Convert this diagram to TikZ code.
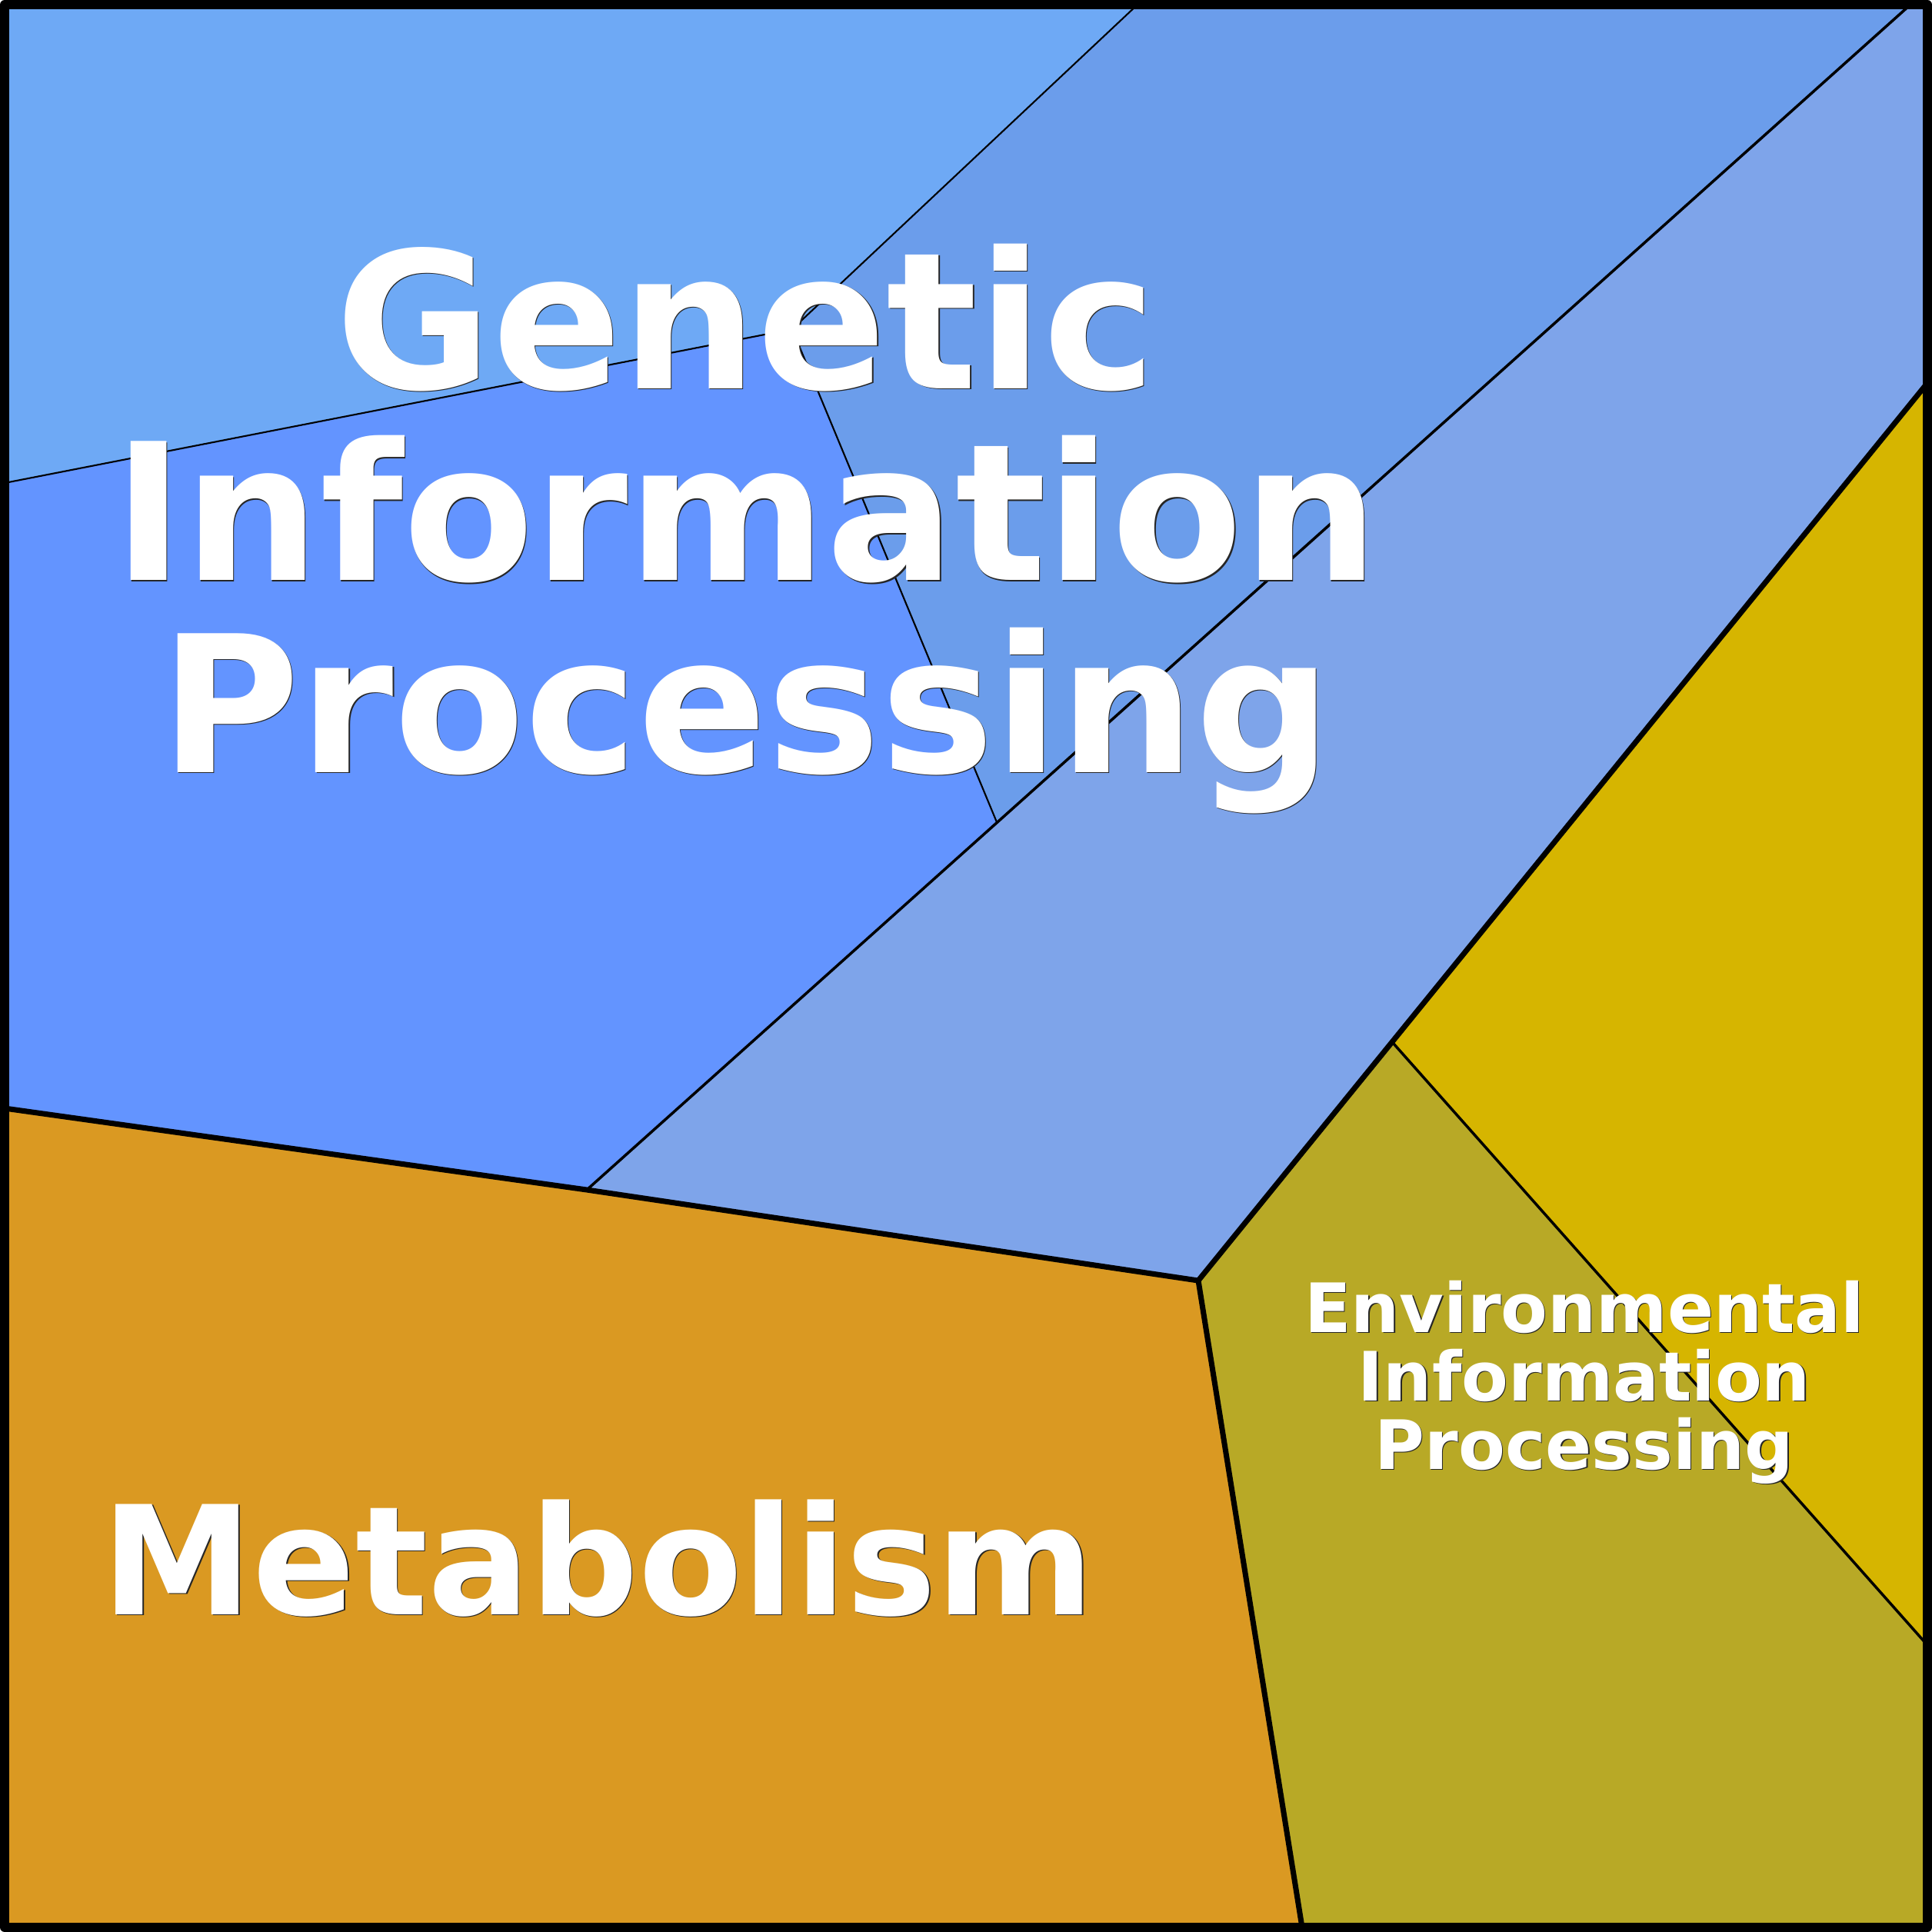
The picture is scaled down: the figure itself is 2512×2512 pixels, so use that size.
\documentclass[tikz,border=0pt]{standalone}
\usepackage{fontspec}
\setmainfont{DejaVu Sans}
\definecolor{skyblue}{RGB}{110,169,245}
\definecolor{midblue}{RGB}{107,157,235}
\definecolor{brightblue}{RGB}{99,148,255}
\definecolor{paleblue}{RGB}{126,164,234}
\definecolor{envyellow}{RGB}{214,181,0}
\definecolor{envolive}{RGB}{184,169,38}
\definecolor{metaorange}{RGB}{218,153,34}
% white label with a thin dark shadow
\newcommand\shadowed[1]{\leavevmode\rlap{\hspace{0.35pt}\raisebox{-0.35pt}{\color{black!85}#1}}#1}
\begin{document}
\begin{tikzpicture}[x=0.01cm,y=-0.01cm,
    border/.style={line width=3.4pt,line join=round},
    heavy/.style={line width=2pt,line join=round},
    medium/.style={line width=1pt},
    fine/.style={line width=0.6pt},
    label/.style={text=white,font=\bfseries,align=center,inner sep=0pt}]
  \useasboundingbox (0,0) rectangle (2512,2512);
  % corners and junctions
  \coordinate (tl) at (6,6);
  \coordinate (tr) at (2506,6);
  \coordinate (br) at (2506,2506);
  \coordinate (bl) at (6,2506);
  \coordinate (topA) at (1479,6);
  \coordinate (topB) at (2484,6);
  \coordinate (leftA) at (6,628);
  \coordinate (leftB) at (6,1441);
  \coordinate (jG) at (1030,428);
  \coordinate (jM) at (1296,1069);
  \coordinate (jL) at (763,1547);
  \coordinate (jC) at (1558,1665);
  \coordinate (jY) at (1812,1357);
  \coordinate (rightA) at (2506,498);
  \coordinate (rightB) at (2506,2139);
  \coordinate (botA) at (1693,2506);
  % regions
  \fill[skyblue] (tl) -- (topA) -- (jG) -- (leftA) -- cycle;
  \fill[midblue] (topA) -- (topB) -- (jM) -- (jG) -- cycle;
  \fill[brightblue] (leftA) -- (jG) -- (jM) -- (jL) -- (leftB) -- cycle;
  \fill[paleblue] (topB) -- (tr) -- (rightA) -- (jC) -- (jL) -- (jM) -- cycle;
  \fill[envyellow] (rightA) -- (rightB) -- (jY) -- cycle;
  \fill[envolive] (jY) -- (rightB) -- (br) -- (botA) -- (jC) -- cycle;
  \fill[metaorange] (leftB) -- (jL) -- (jC) -- (botA) -- (bl) -- cycle;
  % borders between regions
  \draw[fine] (topA) -- (jG);
  \draw[fine] (leftA) -- (jG);
  \draw[fine] (jG) -- (jM);
  \draw[medium] (topB) -- (jL);
  \draw[medium] (jY) -- (rightB);
  \draw[heavy] (leftB) -- (jL) -- (jC) -- (rightA);
  \draw[heavy] (jC) -- (botA);
  \draw[border] (tl) rectangle (br);
  % labels
  \node[label,font=\bfseries\fontsize{70.5}{71}\selectfont] (genetic) at (970,688)
    {\shadowed{Genetic}\\\shadowed{Information}\\\shadowed{Processing}};
  \node[label,font=\bfseries\fontsize{56}{56}\selectfont,anchor=base] (metab) at (778,2099)
    {\shadowed{Metabolism}};
  \node[label,font=\bfseries\fontsize{25.2}{25.3}\selectfont] (envir) at (2060,1798)
    {\shadowed{Environmental}\\\shadowed{Information}\\\shadowed{Processing}};
\end{tikzpicture}
\end{document}
